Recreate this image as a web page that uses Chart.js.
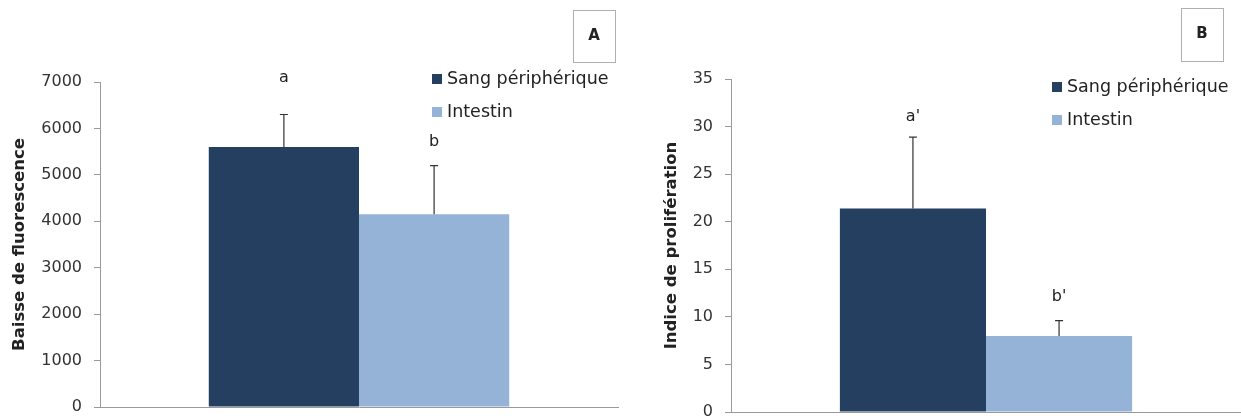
<!DOCTYPE html>
<html>
<head>
<meta charset="utf-8">
<script src="https://cdn.jsdelivr.net/npm/chart.js@4"></script>
<style>
  body { margin: 0; background: #fff; }
  #wrap { position: relative; width: 1241px; height: 419px; }
  canvas { position: absolute; top: 0; }
</style>
</head>
<body>
<div id="wrap">
  <canvas id="chartA" width="620" height="419" style="left:0"></canvas>
  <canvas id="chartB" width="621" height="419" style="left:620px"></canvas>
</div>
<script>
// donnees
const categories = [""];
const seriesNames = ["Sang périphérique", "Intestin"];
const seriesColors = ["#243F60", "#95B3D7"];

const fluoValues = [5600, 4150];
const fluoErrors = [700, 1050];
const fluoLetters = ["a", "b"];
const fluoMax = 7000;
const fluoStep = 1000;

const prolifValues = [21.4, 8.0];
const prolifErrors = [7.5, 1.6];
const prolifLetters = ["a'", "b'"];
const prolifMax = 35;
const prolifStep = 5;

const FONT = "'DejaVu Sans', Verdana, sans-serif";

// barres d'erreur, lettres, legende et cadre du panneau
const annotations = {
  id: "annotations",
  afterDatasetsDraw(chart, args, opts) {
    const ctx = chart.ctx;
    const y = chart.scales.y;
    ctx.save();
    chart.data.datasets.forEach((ds, i) => {
      const bar = chart.getDatasetMeta(i).data[0];
      const top = y.getPixelForValue(ds.data[0] + opts.errors[i]);
      ctx.strokeStyle = "#333";
      ctx.lineWidth = 1.2;
      ctx.beginPath();
      ctx.moveTo(bar.x, bar.y);
      ctx.lineTo(bar.x, top);
      ctx.moveTo(bar.x - 4, top);
      ctx.lineTo(bar.x + 4, top);
      ctx.stroke();

      ctx.fillStyle = "#222";
      ctx.font = "16px " + FONT;
      ctx.textAlign = "center";
      ctx.textBaseline = "middle";
      ctx.fillText(opts.letters[i], bar.x, top - opts.letterGap[i]);
    });

    // legende
    ctx.textAlign = "left";
    ctx.font = "17.5px " + FONT;
    chart.data.datasets.forEach((ds, i) => {
      const ly = opts.legendY + i * 33;
      ctx.fillStyle = ds.backgroundColor;
      ctx.fillRect(opts.legendX, ly - 5, 10, 10);
      ctx.fillStyle = "#222";
      ctx.fillText(ds.label, opts.legendX + 15, ly);
    });

    // cadre A / B
    const b = opts.box;
    ctx.strokeStyle = "#b0b0b0";
    ctx.lineWidth = 1;
    ctx.strokeRect(b[0] + 0.5, b[1] + 0.5, b[2], b[3]);
    ctx.fillStyle = "#222";
    ctx.font = "bold 15px " + FONT;
    ctx.textAlign = "center";
    ctx.fillText(opts.panel, b[0] + b[2] / 2, b[1] + b[3] / 2);
    ctx.restore();
  }
};

function grafico(id, values, errors, letters, max, step, title, opts) {
  const ctx = document.getElementById(id).getContext("2d");
  return new Chart(ctx, {
    type: "bar",
    data: {
      labels: categories,
      datasets: seriesNames.map((name, i) => ({
        label: name,
        data: [values[i]],
        backgroundColor: seriesColors[i],
        categoryPercentage: opts.catPct,
        barPercentage: 1,
      })),
    },
    options: {
      responsive: false,
      animation: false,
      layout: { padding: opts.padding },
      plugins: {
        legend: { display: false },
        tooltip: { enabled: false },
        annotations: Object.assign({ errors: errors, letters: letters }, opts.ann),
      },
      scales: {
        x: {
          grid: { display: false, drawTicks: false },
          ticks: { display: false },
          border: { color: "#9a9a9a" },
          afterFit: (s) => { s.height = 0; },
        },
        y: {
          min: 0,
          max: max,
          ticks: {
            stepSize: step,
            color: "#333",
            padding: 12,
            font: { family: FONT, size: 16 },
            callback: (v) => String(v),
          },
          grid: { drawOnChartArea: false, drawTicks: true, tickLength: 6, color: "#9a9a9a" },
          border: { color: "#9a9a9a" },
          title: {
            display: true,
            text: title,
            color: "#222",
            padding: { top: opts.titlePad },
            font: { family: FONT, size: 16.5, weight: "bold" },
          },
          afterFit: (s) => {
            s.width = opts.axisW;
            s.paddingTop = 0;
            s.paddingBottom = 0;
          },
        },
      },
    },
    plugins: [annotations],
  });
}

grafico("chartA", fluoValues, fluoErrors, fluoLetters, fluoMax, fluoStep,
  "Baisse de fluorescence", {
    catPct: 0.58,
    axisW: 100,
    titlePad: 10,
    padding: { top: 82, bottom: 12, left: 0, right: 2 },
    ann: { letterGap: [37, 24], legendX: 432, legendY: 79, box: [573, 10, 42, 52], panel: "A" },
  });

grafico("chartB", prolifValues, prolifErrors, prolifLetters, prolifMax, prolifStep,
  "Indice de prolifération", {
    catPct: 0.573,
    axisW: 111,
    titlePad: 42,
    padding: { top: 79, bottom: 7, left: 0, right: 0 },
    ann: { letterGap: [20, 24], legendX: 432, legendY: 87, box: [561, 8, 42, 53], panel: "B" },
  });
</script>
</body>
</html>
